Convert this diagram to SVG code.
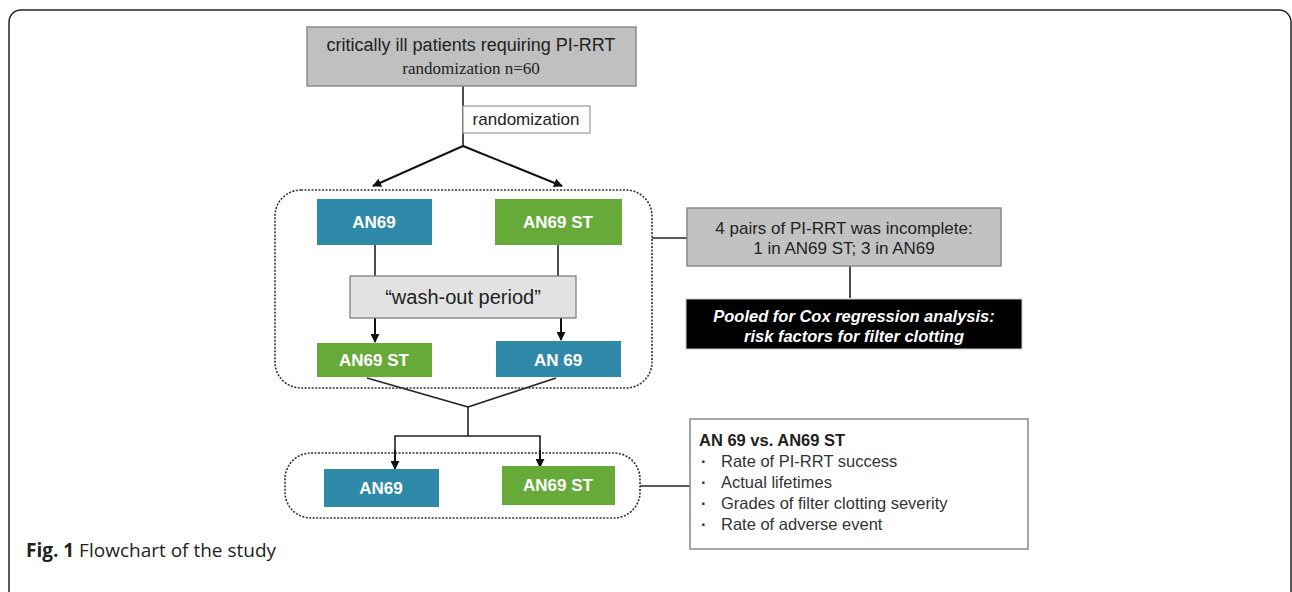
<svg xmlns="http://www.w3.org/2000/svg" width="1292" height="592" viewBox="0 0 1292 592">
<defs>
<marker id="ah" viewBox="0 0 10 10" refX="9" refY="5" markerWidth="9" markerHeight="9" markerUnits="userSpaceOnUse" orient="auto"><path d="M0,0 L10,5 L0,10 z" fill="#111"/></marker>
<style>
.ln{stroke:#222;stroke-width:1.6;fill:none}
.arr{stroke:#111;stroke-width:2;fill:none;marker-end:url(#ah)}
.dot{fill:none;stroke:#333;stroke-width:1.6;stroke-dasharray:2 1.5}
.blue{fill:#2f8aa9}
.green{fill:#67aa3a}
.wt{font-family:"Liberation Sans",Arial,sans-serif;font-weight:bold;font-size:17px;fill:#fff;text-anchor:middle}
.t{font-family:"Liberation Sans",Arial,sans-serif;fill:#222}
</style>
</defs>
<rect x="9" y="10" width="1282" height="600" rx="12" fill="#fff" stroke="#222" stroke-width="1.5"/>
<g id="connectors">
<line class="ln" x1="463" y1="86" x2="463" y2="146"/>
<line class="arr" x1="463" y1="146" x2="373" y2="186"/>
<line class="arr" x1="463" y1="146" x2="562" y2="186"/>
<line class="ln" x1="375" y1="245" x2="375" y2="276"/>
<line class="ln" x1="558" y1="245" x2="558" y2="276"/>
<line class="arr" x1="375" y1="318" x2="375" y2="342"/>
<line class="arr" x1="561" y1="318" x2="561" y2="340"/>
<line class="ln" x1="367" y1="378" x2="468" y2="407"/>
<line class="ln" x1="556" y1="378" x2="468" y2="407"/>
<line class="ln" x1="468" y1="407" x2="468" y2="436"/>
<path class="ln" d="M395,468 L395,436 L540,436 L540,466"/>
<line class="arr" x1="395" y1="450" x2="395" y2="469"/>
<line class="arr" x1="540" y1="450" x2="540" y2="467"/>
<line class="ln" x1="652" y1="238" x2="687" y2="238"/>
<line class="ln" x1="850" y1="266" x2="850" y2="298"/>
<line class="ln" x1="640" y1="486" x2="690" y2="486"/>
</g>
<g id="top">
<rect x="307" y="27" width="329" height="59" fill="#c0c0c0" stroke="#8a8a8a" stroke-width="1.5"/>
<text class="t" x="471" y="51" font-size="18" text-anchor="middle" fill="#333">critically ill patients requiring PI-RRT</text>
<text x="471" y="74" font-family="Liberation Serif,serif" font-size="17" text-anchor="middle" fill="#222">randomization n=60</text>
</g>
<g id="rand">
<rect x="463" y="106" width="127" height="27" fill="#fff" stroke="#999" stroke-width="1.2"/>
<text class="t" x="526" y="125" font-size="17" text-anchor="middle" fill="#333">randomization</text>
</g>
<g id="period1">
<rect class="dot" x="275" y="190" width="377" height="198" rx="26"/>
</g>
<g id="an69a"><rect class="blue" x="317" y="199" width="115" height="46"/><text class="wt" x="374" y="228">AN69</text></g>
<g id="an69sta"><rect class="green" x="495" y="199" width="127" height="46"/><text class="wt" x="558" y="228">AN69 ST</text></g>
<g id="washout">
<rect x="350" y="276" width="226" height="42" fill="#e2e2e2" stroke="#777" stroke-width="1.2"/>
<text class="t" x="463" y="304" font-size="20" text-anchor="middle" fill="#333">“wash-out period”</text>
</g>
<g id="an69stb"><rect class="green" x="317" y="343" width="115" height="34"/><text class="wt" x="374" y="366">AN69 ST</text></g>
<g id="an69b"><rect class="blue" x="496" y="341" width="125" height="36"/><text class="wt" x="558" y="366">AN 69</text></g>
<g id="period2">
<rect class="dot" x="285" y="453" width="355" height="65" rx="26"/>
</g>
<g id="an69c"><rect class="blue" x="324" y="469" width="115" height="38"/><text class="wt" x="381" y="494">AN69</text></g>
<g id="an69stc"><rect class="green" x="502" y="466" width="113" height="39"/><text class="wt" x="558" y="491">AN69 ST</text></g>
<g id="incomplete">
<rect x="687" y="208" width="314" height="58" fill="#c2c2c2" stroke="#8a8a8a" stroke-width="1.5"/>
<text class="t" x="844" y="234" font-size="17" text-anchor="middle" fill="#333">4 pairs of PI-RRT was incomplete:</text>
<text class="t" x="844" y="254" font-size="17" text-anchor="middle" fill="#333">1 in AN69 ST; 3 in AN69</text>
</g>
<g id="pooled">
<rect x="686" y="299" width="336" height="50" fill="#000" stroke="#ccc" stroke-width="1"/>
<text x="854" y="322" font-family="Liberation Sans,Arial,sans-serif" font-size="16.5" font-weight="bold" font-style="italic" fill="#fff" text-anchor="middle">Pooled for Cox regression analysis:</text>
<text x="854" y="342" font-family="Liberation Sans,Arial,sans-serif" font-size="16.5" font-weight="bold" font-style="italic" fill="#fff" text-anchor="middle">risk factors for filter clotting</text>
</g>
<g id="outcomes">
<rect x="690" y="419" width="338" height="130" fill="#fff" stroke="#888" stroke-width="1.5"/>
<text class="t" x="699" y="446" font-size="16.5" font-weight="bold" fill="#111">AN 69 vs. AN69 ST</text>
<g font-size="16.5" fill="#333" font-family="Liberation Sans,Arial,sans-serif">
<text x="701" y="467" font-weight="bold">·</text><text x="721" y="467">Rate of PI-RRT success</text>
<text x="701" y="488" font-weight="bold">·</text><text x="721" y="488">Actual lifetimes</text>
<text x="701" y="509" font-weight="bold">·</text><text x="721" y="509">Grades of filter clotting severity</text>
<text x="701" y="530" font-weight="bold">·</text><text x="721" y="530">Rate of adverse event</text>
</g>
</g>
<g id="caption">
<text x="26" y="557" font-family="Open Sans,sans-serif" font-size="19" fill="#222"><tspan font-weight="bold">Fig. 1</tspan> Flowchart of the study</text>
</g>
</svg>
